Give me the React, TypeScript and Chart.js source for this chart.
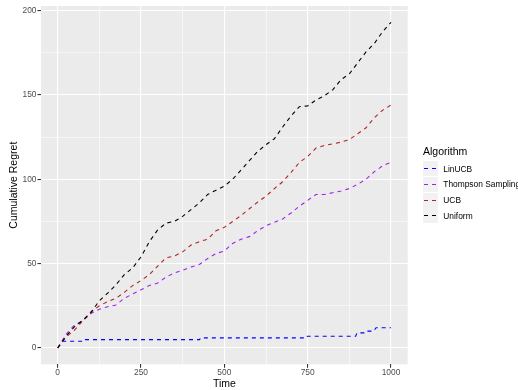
import React, { useEffect, useRef } from 'react';
import { Chart, registerables } from 'chart.js';

Chart.register(...registerables);

// ---- data ----
const times = [
  0, 25, 50, 75, 100, 125, 150, 175, 200, 225, 250, 275, 300, 325, 350, 375, 400,
  425, 450, 475, 500, 525, 550, 575, 600, 625, 650, 675, 700, 725, 750, 775, 800,
  825, 850, 875, 900, 925, 950, 975, 1000,
];
const uniformRegret = [
  0, 7, 12.5, 16.5, 21, 28, 32.5, 37.5, 43.5, 47.5, 54, 63, 70, 74, 75, 78, 82,
  86, 91, 93.5, 96, 100, 105.5, 111, 116.5, 120.5, 124, 131, 137.5, 143, 143.5,
  147, 149.5, 153, 159, 162.5, 169, 175.5, 180.5, 187.5, 193,
];
const ucbRegret = [
  0, 6.5, 10.5, 16, 21.5, 25, 27.5, 29.5, 33, 37, 40, 43.5, 48.5, 53.5, 54.5, 57,
  61, 63, 64.5, 69.5, 71.5, 75, 78.5, 82.5, 86.5, 90, 94.5, 98.5, 104, 110, 113.5,
  118.5, 120, 121, 122, 123.5, 127, 130.5, 136.5, 141, 144,
];
const thompsonRegret = [
  0, 8, 13.5, 16, 20.5, 23, 24.5, 25.5, 29.5, 32, 34.5, 37, 38.5, 42, 44.5, 46,
  48, 49.5, 53, 56, 57.5, 62, 64.5, 66, 69.5, 72.5, 74.5, 76.5, 80, 84, 87.5, 91,
  91, 92, 93, 94.5, 97, 100, 104.5, 108, 110,
];
const linucbTimes = [0, 14, 74, 76, 426, 428, 747, 749, 894, 898, 925, 928, 948, 955, 1000];
const linucbRegret = [0, 4, 4, 5, 5, 6, 6, 7, 7, 9, 9, 10, 10, 12, 12];

const xMajorTicks = [0, 250, 500, 750, 1000];
const xMinorTicks = [125, 375, 625, 875];
const yMajorTicks = [0, 50, 100, 150, 200];
const yMinorTicks = [25, 75, 125, 175];

const seriesNames = ['LinUCB', 'Thompson Sampling', 'UCB', 'Uniform'];
const seriesColors = ['#0000FF', '#A020F0', '#B22222', '#000000'];
const legendTitle = 'Algorithm';
const xTitle = 'Time';
const yTitle = 'Cumulative Regret';

const FONT = '"Liberation Sans", Arial, Helvetica, sans-serif';

const toPoints = (xs: number[], ys: number[]) => xs.map((x, i) => ({ x, y: ys[i] }));

const panelBg = {
  id: 'panelBg',
  beforeDraw(chart: any) {
    const { ctx, chartArea } = chart;
    ctx.save();
    ctx.fillStyle = '#EBEBEB';
    ctx.fillRect(chartArea.left, chartArea.top, chartArea.right - chartArea.left, chartArea.bottom - chartArea.top);
    ctx.restore();
  },
};

export default function App() {
  const ref = useRef<HTMLCanvasElement | null>(null);

  useEffect(() => {
    if (!ref.current) return;
    const seriesData = [
      toPoints(linucbTimes, linucbRegret),
      toPoints(times, thompsonRegret),
      toPoints(times, ucbRegret),
      toPoints(times, uniformRegret),
    ];
    const datasets = seriesNames.map((name, i) => ({
      label: name,
      data: seriesData[i],
      borderColor: seriesColors[i],
      backgroundColor: seriesColors[i],
      borderWidth: 1.1,
      borderDash: [4, 4],
      pointRadius: 0,
      tension: 0,
      fill: false,
      order: seriesNames.length - 1 - i,
    }));

    const axisCommon = (major: number[], minor: number[]) => ({
      afterBuildTicks: (s: any) => {
        s.ticks = [...major, ...minor].sort((a, b) => a - b).map((v) => ({ value: v }));
      },
      grid: {
        color: '#FFFFFF',
        lineWidth: (c: any) => (c.tick && major.includes(c.tick.value) ? 1.1 : 0.55),
        tickLength: 3.5,
        tickWidth: 1.1,
        tickColor: (c: any) => (c.tick && major.includes(c.tick.value) ? '#333333' : 'rgba(0,0,0,0)'),
      },
      border: { display: false },
      ticks: {
        autoSkip: false,
        maxRotation: 0,
        color: '#4D4D4D',
        font: { family: FONT, size: 8.4 },
        callback: (v: any) => (major.includes(Number(v)) ? String(v) : ''),
      },
    });

    const xAxis: any = axisCommon(xMajorTicks, xMinorTicks);
    xAxis.type = 'linear';
    xAxis.min = -50;
    xAxis.max = 1050;
    xAxis.afterFit = (s: any) => { s.height = 25.7; };
    xAxis.ticks.padding = 0;
    xAxis.title = { display: true, text: xTitle, color: '#000000', font: { family: FONT, size: 10.5 }, padding: { top: 0, bottom: 0 } };

    const yAxis: any = axisCommon(yMajorTicks, yMinorTicks);
    yAxis.type = 'linear';
    yAxis.min = -9.65;
    yAxis.max = 202.65;
    yAxis.afterFit = (s: any) => { s.width = 41; };
    yAxis.ticks.padding = 1;
    yAxis.title = { display: true, text: yTitle, color: '#000000', font: { family: FONT, size: 10.5 }, padding: { top: 7.7, bottom: 0 } };

    const chart = new Chart(ref.current, {
      type: 'line',
      data: { datasets },
      options: {
        responsive: false,
        animation: false,
        parsing: true,
        layout: { padding: { left: 0, right: 110.3, top: 5.5, bottom: 0 } },
        plugins: { legend: { display: false }, tooltip: { enabled: false } },
        scales: { x: xAxis, y: yAxis },
      } as any,
      plugins: [panelBg],
    });
    return () => chart.destroy();
  }, []);

  const keyTop = 161.2;
  const keyStep = 15.7;

  return (
    <div style={{ position: 'fixed', left: 0, top: 0, width: 518, height: 390, background: '#FFFFFF', overflow: 'hidden' }}>
      <canvas ref={ref} width={518} height={390} style={{ position: 'absolute', left: 0, top: 0, display: 'block' }} />
      <div style={{ position: 'absolute', left: 423, top: 145, fontFamily: FONT, fontSize: 10.5, lineHeight: '12px', color: '#000', whiteSpace: 'nowrap' }}>
        {legendTitle}
      </div>
      {seriesNames.map((name, i) => (
        <React.Fragment key={name}>
          <div style={{ position: 'absolute', left: 422.5, top: keyTop + i * keyStep, width: 15.2, height: 15.2, background: '#F2F2F2' }}>
            <div style={{ position: 'absolute', left: 1.8, top: 7.1, width: 4, height: 1.1, background: seriesColors[i] }} />
            <div style={{ position: 'absolute', left: 9.2, top: 7.1, width: 4, height: 1.1, background: seriesColors[i] }} />
          </div>
          <div style={{ position: 'absolute', left: 443.3, top: keyTop + i * keyStep + 2.3, fontFamily: FONT, fontSize: 8.4, lineHeight: '11px', color: '#000', whiteSpace: 'nowrap' }}>
            {name}
          </div>
        </React.Fragment>
      ))}
    </div>
  );
}
